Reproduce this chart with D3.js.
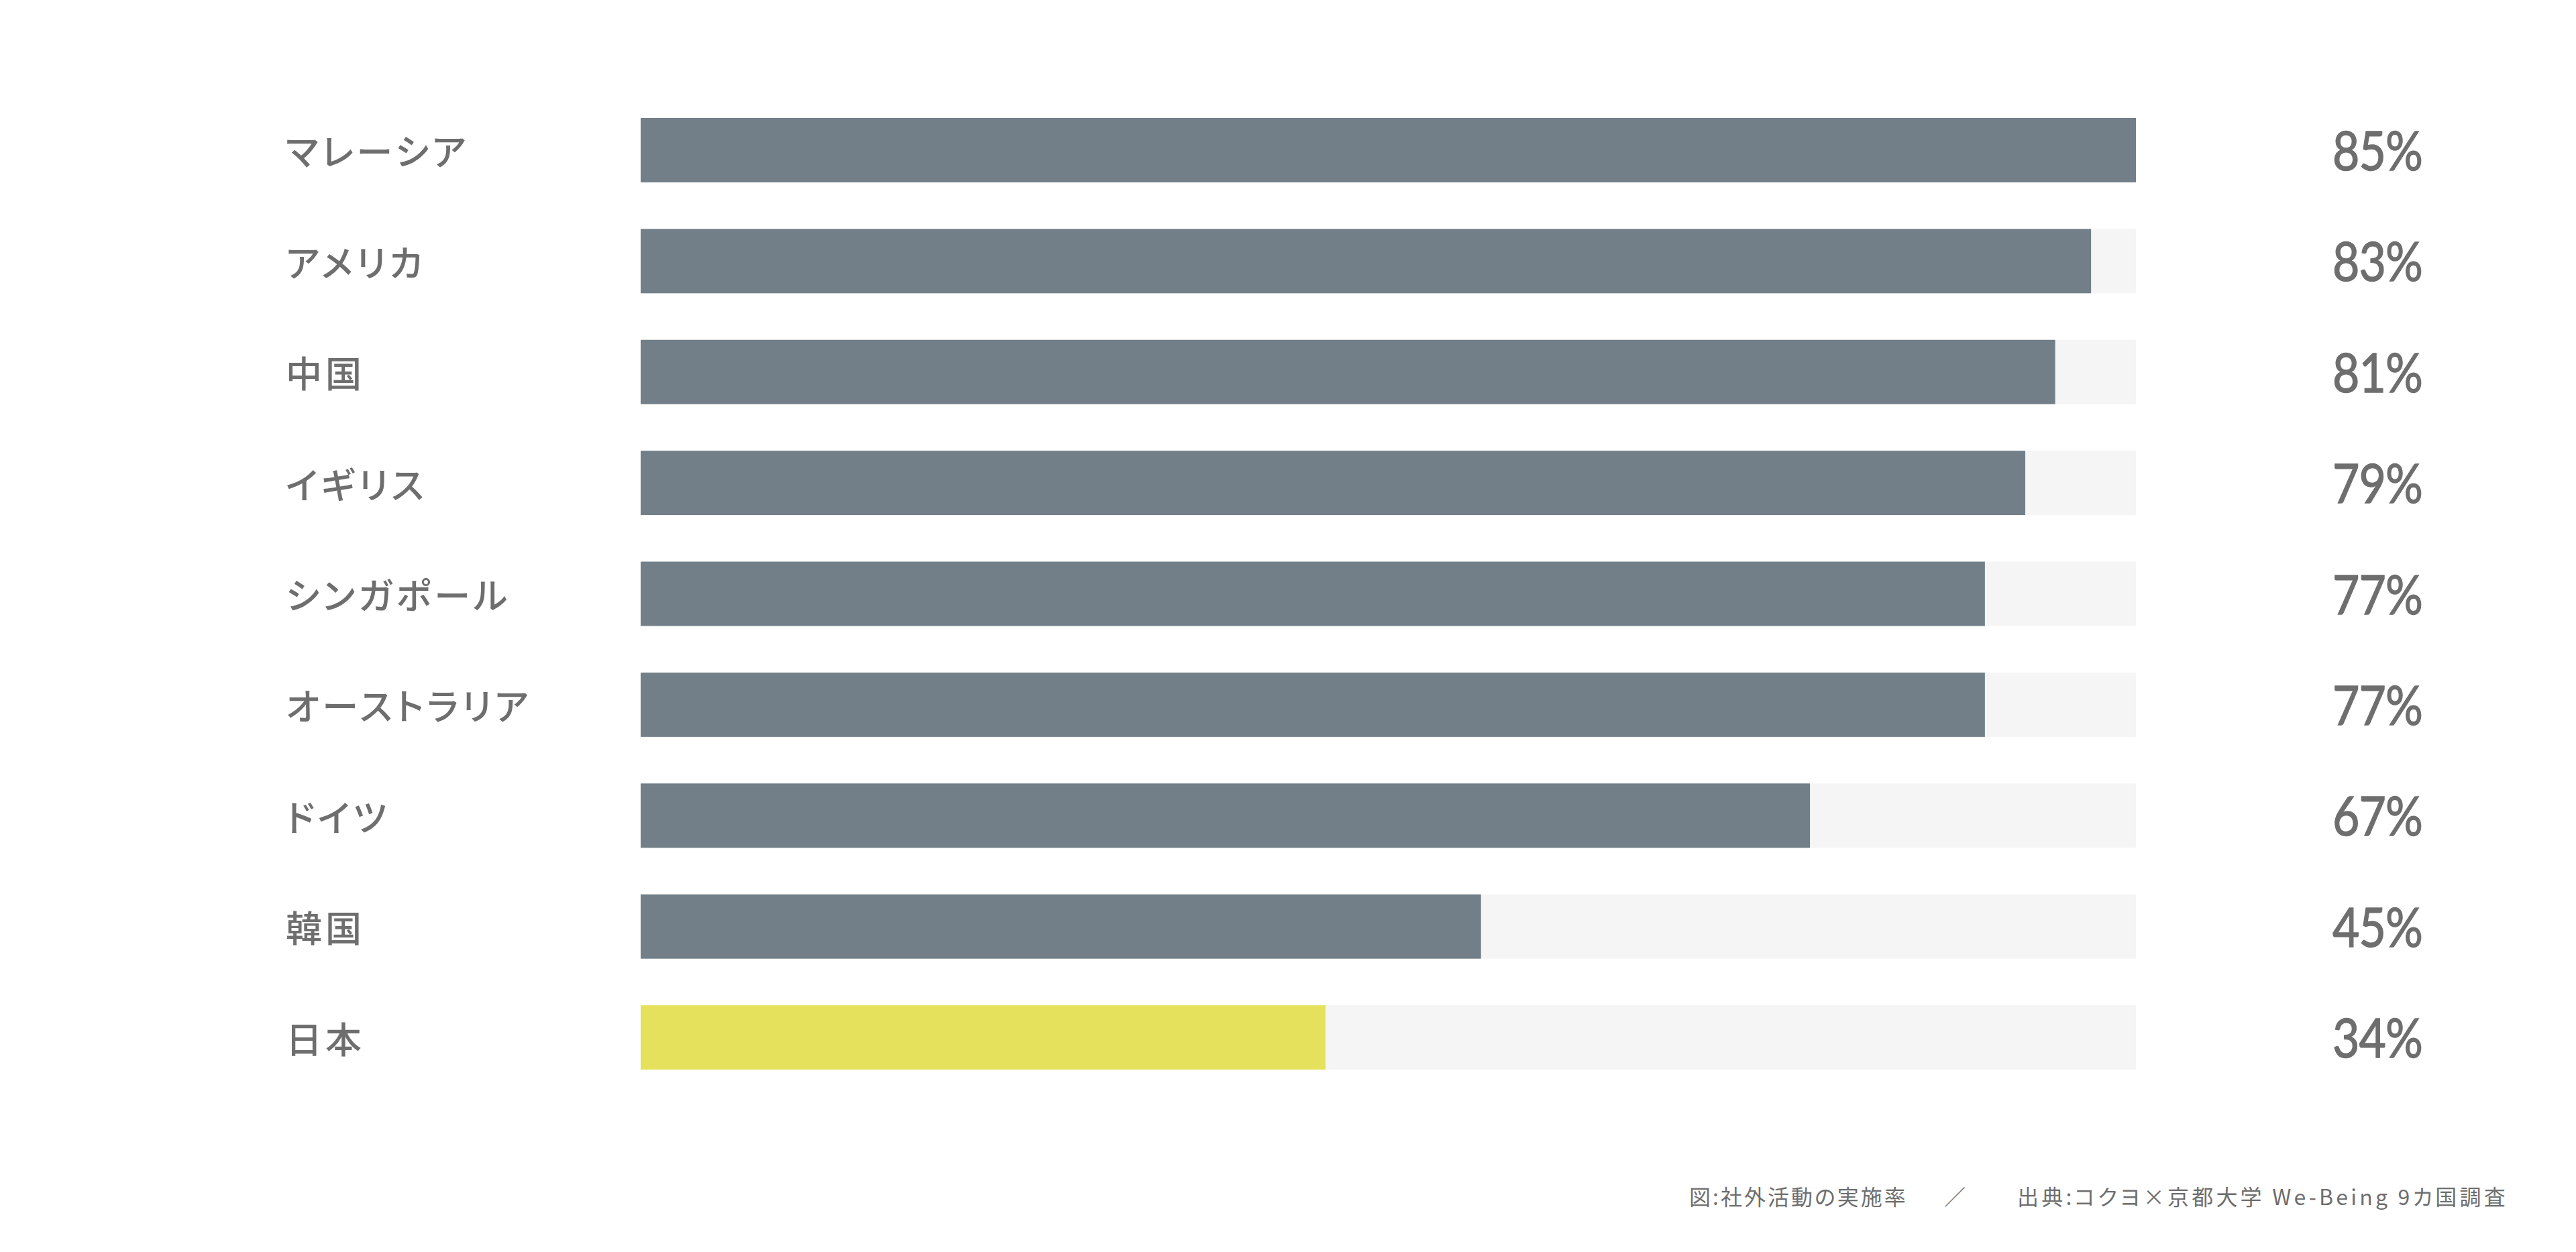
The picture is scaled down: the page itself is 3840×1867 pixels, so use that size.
<!DOCTYPE html>
<html>
<head>
<meta charset="utf-8">
<script src="https://cdn.jsdelivr.net/npm/d3@7"></script>
<style>
  html, body { margin: 0; padding: 0; background: #ffffff; }
  svg { display: block; }
  .cjk { font-family: "Noto Sans CJK JP", "Noto Sans", sans-serif; font-feature-settings: "palt"; }
</style>
</head>
<body>
<svg id="chart" width="3840" height="1867"></svg>
<script>
// ---- data ----
const countries = ["マレーシア", "アメリカ", "中国", "イギリス", "シンガポール", "オーストラリア", "ドイツ", "韓国", "日本"];
const rates = [85, 83, 81, 79, 77, 77, 67, 45, 34];           // printed labels (%)
const barLengths = [100, 97.0, 94.6, 92.6, 89.9, 89.9, 78.2, 56.2, 45.8]; // bar length (% of track)
const highlight = ["日本"];
const captionTitle = "図:社外活動の実施率";
const captionSep = "／";
const captionSource = "出典:コクヨ×京都大学 We-Being 9カ国調査";

// ---- layout ----
const svg = d3.select("#chart");

const x = d3.scaleLinear().domain([0, 100]).range([955, 3184]);
const y = d3.scaleBand().domain(countries).range([176, 1595]).paddingInner(0.42).paddingOuter(0);

const barColor = "#727f88";
const hiColor = "#e6e15c";
const trackColor = "#f5f5f5";
const textColor = "#6e6e6e";

const rows = countries.map((c, i) => ({ country: c, rate: rates[i], len: barLengths[i] }));

const g = svg.append("g");

// tracks
g.selectAll("rect.track").data(rows).join("rect")
  .attr("class", "track")
  .attr("x", x(0))
  .attr("y", d => y(d.country))
  .attr("width", x(100) - x(0))
  .attr("height", y.bandwidth())
  .attr("fill", trackColor);

// bars
g.selectAll("rect.bar").data(rows).join("rect")
  .attr("class", "bar")
  .attr("x", x(0))
  .attr("y", d => y(d.country))
  .attr("width", d => x(d.len) - x(0))
  .attr("height", y.bandwidth())
  .attr("fill", d => highlight.includes(d.country) ? hiColor : barColor);

// country labels
g.selectAll("text.country").data(rows).join("text")
  .attr("class", "country cjk")
  .attr("x", 426)
  .attr("y", d => y(d.country) + y.bandwidth() / 2)
  .attr("dominant-baseline", "central")
  .attr("font-size", 54)
  .attr("letter-spacing", "5px")
  .attr("font-weight", 500)
  .attr("fill", textColor)
  .text(d => d.country);

// value labels (slightly condensed geometric numerals)
g.selectAll("text.value").data(rows).join("text")
  .attr("class", "value")
  .attr("transform", d => `translate(3544,${y(d.country) + y.bandwidth() / 2 + 30}) scale(0.86,1)`)
  .attr("text-anchor", "middle")
  .attr("font-family", "Lato, 'Noto Sans', sans-serif")
  .attr("font-size", 81)
  .attr("letter-spacing", "-1px")
  .attr("fill", textColor)
  .attr("stroke", textColor)
  .attr("stroke-width", 1.4)
  .text(d => d.rate + "%");

// caption
const cap = svg.append("g").attr("fill", textColor).attr("font-size", 32);
cap.append("text").attr("class", "cjk").attr("x", 2518).attr("y", 1783)
  .attr("letter-spacing", "3px")
  .attr("dominant-baseline", "central").text(captionTitle);
cap.append("text").attr("class", "cjk").attr("x", 2914).attr("y", 1783)
  .attr("text-anchor", "middle").attr("dominant-baseline", "central").text(captionSep);
cap.append("text").attr("class", "cjk").attr("x", 3007).attr("y", 1783)
  .attr("letter-spacing", "4.2px")
  .attr("dominant-baseline", "central").text(captionSource);
</script>
</body>
</html>
